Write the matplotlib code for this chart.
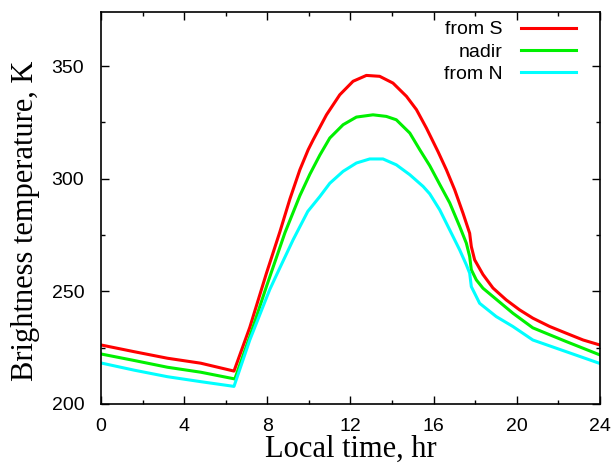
import matplotlib.pyplot as plt
from matplotlib.ticker import MultipleLocator

# brightness temperature vs local time
t_s = [0, 1.6, 3.2, 4.8, 6.4, 7.16, 7.96, 8.61, 9.09, 9.57, 9.97, 10.21, 10.85,
       11.49, 12.13, 12.77, 13.41, 14.05, 14.7, 15.18, 15.66, 16.22, 16.62, 17.02,
       17.42, 17.74, 17.82, 17.98, 18.38, 18.86, 19.5, 20.14, 20.78, 21.59, 22.39,
       23.2, 24]
T_s = [226.2, 223.2, 220.3, 218.1, 214.6, 234.0, 258.0, 276.5, 291.0, 304.0, 312.9,
       317.3, 328.4, 337.3, 343.3, 345.9, 345.5, 342.5, 336.6, 330.7, 322.5, 312.0,
       304.0, 295.1, 284.7, 275.8, 269.9, 264.0, 257.5, 251.5, 246.2, 241.8, 238.1,
       234.4, 231.4, 228.4, 226.2]

t_nadir = [0, 1.6, 3.2, 4.8, 6.44, 7.16, 7.96, 8.85, 9.57, 10.05, 10.53, 11.01,
           11.65, 12.29, 13.09, 13.73, 14.21, 14.86, 15.34, 15.82, 16.3, 16.78,
           17.26, 17.58, 17.74, 17.82, 18.06, 18.38, 18.86, 19.82, 20.78, 22.39, 24]
T_nadir = [222.2, 219.3, 216.3, 214.1, 211.1, 229.9, 252.1, 276.0, 292.5, 302.0,
           310.5, 318.1, 324.0, 327.4, 328.4, 327.7, 326.2, 320.3, 312.9, 305.8,
           297.5, 289.3, 278.8, 271.4, 265.5, 259.6, 255.1, 251.4, 247.7, 240.3,
           233.8, 227.7, 221.8]

t_n = [0, 1.6, 3.2, 4.8, 6.4, 7.16, 8.12, 8.6, 9.25, 9.95, 10.53, 11.01, 11.65,
       12.29, 12.93, 13.57, 14.21, 14.86, 15.5, 15.82, 16.3, 16.78, 17.26, 17.58,
       17.74, 17.82, 18.22, 19.02, 19.82, 20.78, 22.39, 24]
T_n = [218.2, 215.0, 212.1, 209.9, 207.8, 228.4, 250.8, 260.3, 273.0, 285.5, 292.1,
       298.0, 303.3, 307.0, 308.8, 308.8, 306.2, 301.8, 296.6, 293.3, 286.2, 277.3,
       268.4, 261.8, 258.1, 252.1, 244.7, 238.8, 234.4, 228.4, 223.2, 218.0]

fig = plt.figure(figsize=(6.12, 4.67), dpi=100)
ax = fig.add_axes([0.165, 0.135, 0.815, 0.839])

ax.plot(t_s, T_s, color='#ff0000', lw=2.2, label='from S')
ax.plot(t_nadir, T_nadir, color='#00f000', lw=2.2, label='nadir')
ax.plot(t_n, T_n, color='#00ffff', lw=2.2, label='from N')

ax.set_xlim(0, 24)
ax.set_ylim(200, 374)
ax.xaxis.set_major_locator(MultipleLocator(4))
ax.xaxis.set_minor_locator(MultipleLocator(2))
ax.yaxis.set_major_locator(MultipleLocator(50))
ax.yaxis.set_minor_locator(MultipleLocator(25))
ax.tick_params(which='both', direction='in', top=True, right=True,
               labelsize=14, width=1.0)
ax.tick_params(which='major', length=6, pad=10)
ax.tick_params(which='minor', length=3)
ax.tick_params(axis='y', which='major', pad=12)
for lab in ax.get_xticklabels() + ax.get_yticklabels():
    lab.set_family('Liberation Sans')
for sp in ax.spines.values():
    sp.set_linewidth(1.2)

ax.set_xlabel('Local time, hr', family='Liberation Serif', fontsize=22, labelpad=0)
ax.set_ylabel('Brightness temperature, K', family='Liberation Serif', fontsize=22)
ax.yaxis.set_label_coords(-0.122, 0.467)

ax.legend(loc='upper right', bbox_to_anchor=(0.952, 0.978), frameon=False,
          markerfirst=False, prop={'family': 'Liberation Sans', 'size': 14},
          handlelength=2.8, handletextpad=0.95, labelspacing=0.24,
          borderpad=0, borderaxespad=0)

fig.savefig('out.png')
